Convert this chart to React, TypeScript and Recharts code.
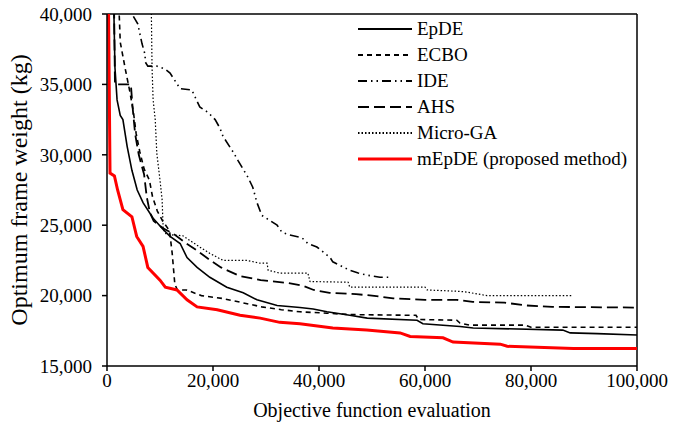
import { Label, Legend, Line, LineChart, ReferenceLine, XAxis, YAxis } from 'recharts'

// convergence histories (evaluations, weight in kg)
const epdeEval = [1050, 1500, 1900, 2500, 3000, 3800, 4700, 5700, 6800, 8700, 10600, 11900, 13800, 15100, 17000, 19400, 22600, 25700, 28300, 32100, 36400, 38900, 41500, 45800, 49100, 58500, 59600, 66600, 69100, 86000, 87400, 92500, 100000]
const epdeWeight = [45000, 36200, 33900, 32800, 32500, 30600, 28900, 27500, 26600, 25500, 24700, 24200, 23700, 22700, 22000, 21300, 20600, 20200, 19700, 19300, 19150, 19050, 18850, 18600, 18400, 18250, 18000, 17800, 17700, 17550, 17350, 17300, 17200]

const ecboEval = [1800, 2500, 3500, 4300, 5000, 5500, 6200, 7000, 8000, 8600, 9500, 10500, 11800, 12300, 12800, 13300, 15000, 17800, 21700, 25500, 29200, 32900, 36400, 41500, 46000, 58300, 58800, 66000, 66600, 68500, 79000, 80000, 100000]
const ecboWeight = [45000, 38000, 36000, 34500, 33000, 31500, 30200, 29000, 28200, 27000, 26000, 25300, 24600, 23000, 20800, 20400, 20400, 20000, 19800, 19500, 19200, 19000, 18850, 18750, 18650, 18600, 18300, 18250, 18050, 17900, 17900, 17750, 17750]

const ideEval = [4500, 4700, 5800, 6600, 7200, 7200, 7700, 9400, 10900, 11900, 13800, 16000, 17500, 19100, 20400, 21300, 21900, 23800, 24700, 26600, 27500, 28300, 29200, 32100, 33000, 34500, 36800, 37900, 39600, 42100, 42600, 45800, 47400, 49100, 51500, 53400]
const ideWeight = [41500, 40000, 39300, 37900, 37100, 36600, 36300, 36300, 36100, 35800, 34700, 34600, 33400, 33000, 32500, 31900, 31300, 30200, 29600, 28400, 27700, 26600, 25700, 25000, 24500, 24300, 24100, 23700, 23450, 22700, 22400, 21800, 21600, 21450, 21300, 21300]

const ahsEval = [1200, 1500, 4500, 4800, 5300, 6000, 7000, 7500, 8100, 8800, 10500, 12500, 15000, 17000, 19500, 21500, 25000, 29000, 34000, 37000, 39000, 42000, 47000, 50000, 54000, 60000, 66000, 69000, 75000, 79000, 84000, 100000]
const ahsWeight = [45000, 35000, 35000, 33500, 31500, 30000, 28600, 27000, 25900, 25300, 24800, 24400, 23700, 23200, 22500, 22000, 21400, 21100, 20900, 20700, 20400, 20200, 20100, 20000, 19800, 19700, 19700, 19550, 19500, 19300, 19200, 19150]

const microGaEval = [8200, 8500, 8700, 9100, 9400, 10000, 10400, 10600, 11100, 12500, 14300, 15700, 17500, 19400, 21900, 26400, 28900, 30200, 30400, 32600, 37900, 38300, 45500, 45800, 60000, 60400, 66600, 67900, 71700, 87700]
const microGaWeight = [45000, 36200, 33900, 32500, 30100, 28200, 26800, 24700, 24400, 24300, 24250, 23900, 23450, 23000, 22500, 22500, 22300, 22300, 21800, 21600, 21600, 21000, 20950, 20600, 20600, 20400, 20300, 20250, 20000, 20000]

const mepdeEval = [150, 570, 1400, 2000, 3000, 4700, 5600, 6800, 7700, 10000, 11000, 13200, 15100, 17000, 20800, 25100, 28900, 32600, 36400, 42600, 49000, 55300, 57200, 63400, 65300, 74200, 75500, 88000, 100000]
const mepdeWeight = [46000, 28700, 28500, 27500, 26100, 25600, 24200, 23500, 22000, 21100, 20600, 20400, 19700, 19200, 19000, 18600, 18400, 18100, 18000, 17700, 17550, 17350, 17100, 17000, 16700, 16550, 16400, 16250, 16250]

const xTicks = [0, 20000, 40000, 60000, 80000, 100000]
const yTicks = [15000, 20000, 25000, 30000, 35000, 40000]

const zip = (xs: number[], ys: number[]) => xs.map((x, i) => ({ x, y: ys[i] }))

const series = [
  { name: 'EpDE', data: zip(epdeEval, epdeWeight), stroke: '#000', width: 1.6, dash: undefined },
  { name: 'ECBO', data: zip(ecboEval, ecboWeight), stroke: '#000', width: 1.6, dash: '5 4' },
  { name: 'IDE', data: zip(ideEval, ideWeight), stroke: '#000', width: 1.6, dash: '9 4 1.5 4 1.5 4' },
  { name: 'AHS', data: zip(ahsEval, ahsWeight), stroke: '#000', width: 1.8, dash: '11 5' },
  { name: 'Micro-GA', data: zip(microGaEval, microGaWeight), stroke: '#000', width: 1.2, dash: '1.5 2' },
  { name: 'mEpDE (proposed method)', data: zip(mepdeEval, mepdeWeight), stroke: '#ff0000', width: 3, dash: undefined },
]

const font = 'Liberation Serif, serif'
const textStyle = { fontFamily: font }
const fmt = (v: number) => v.toLocaleString('en-US')

function LegendBox() {
  return (
    <svg width={290} height={160} style={{ display: 'block' }}>
      {series.map((s, i) => {
        const y = 15 + i * 26
        return (
          <g key={s.name}>
            <line x1={8} x2={62} y1={y} y2={y} stroke={s.stroke} strokeWidth={s.width === 3 ? 3 : 1.8} strokeDasharray={s.dash} />
            <text x={67} y={y + 6} style={textStyle} fontSize={19} fill="#000">{s.name}</text>
          </g>
        )
      })}
    </svg>
  )
}

export default function App() {
  return (
    <div style={{ position: 'absolute', left: 0, top: 0, width: 686, height: 431, background: '#fff' }}>
      <LineChart width={686} height={431} margin={{ top: 14, right: 49, left: 10, bottom: 35 }}>
        <XAxis
          dataKey="x"
          type="number"
          domain={[0, 100000]}
          ticks={xTicks}
          tickFormatter={fmt}
          allowDataOverflow
          height={30}
          tickSize={5}
          tickMargin={3}
          axisLine={{ stroke: '#000', strokeWidth: 1.5 }}
          tickLine={{ stroke: '#000', strokeWidth: 1.5 }}
          tick={{ fill: '#000', fontSize: 19, style: textStyle }}
        >
          <Label
            content={() => (
              <text x={372} y={417} textAnchor="middle" style={textStyle} fontSize={20} fill="#000">
                Objective function evaluation
              </text>
            )}
          />
        </XAxis>
        <YAxis
          dataKey="y"
          type="number"
          domain={[15000, 40000]}
          ticks={yTicks}
          tickFormatter={fmt}
          allowDataOverflow
          width={97}
          tickSize={5}
          tickMargin={10}
          axisLine={{ stroke: '#000', strokeWidth: 1.5 }}
          tickLine={{ stroke: '#000', strokeWidth: 1.5 }}
          tick={{ fill: '#000', fontSize: 19, style: textStyle }}
        >
          <Label
            content={() => (
              <text x={27} y={190} transform="rotate(-90 27 190)" textAnchor="middle" style={textStyle} fontSize={24} fill="#000">
                Optimum frame weight (kg)
              </text>
            )}
          />
        </YAxis>
        <ReferenceLine y={40000} stroke="#000" strokeWidth={1.5} />
        <ReferenceLine x={100000} stroke="#000" strokeWidth={1.5} />
        {series.map((s) => (
          <Line
            key={s.name}
            data={s.data}
            dataKey="y"
            name={s.name}
            type="linear"
            stroke={s.stroke}
            strokeWidth={s.width}
            strokeDasharray={s.dash}
            dot={false}
            activeDot={false}
            isAnimationActive={false}
          />
        ))}
        <Legend
          layout="vertical"
          align="center"
          verticalAlign="middle"
          content={() => <LegendBox />}
          wrapperStyle={{ left: 350, top: 14, width: 290 }}
        />
      </LineChart>
    </div>
  )
}
